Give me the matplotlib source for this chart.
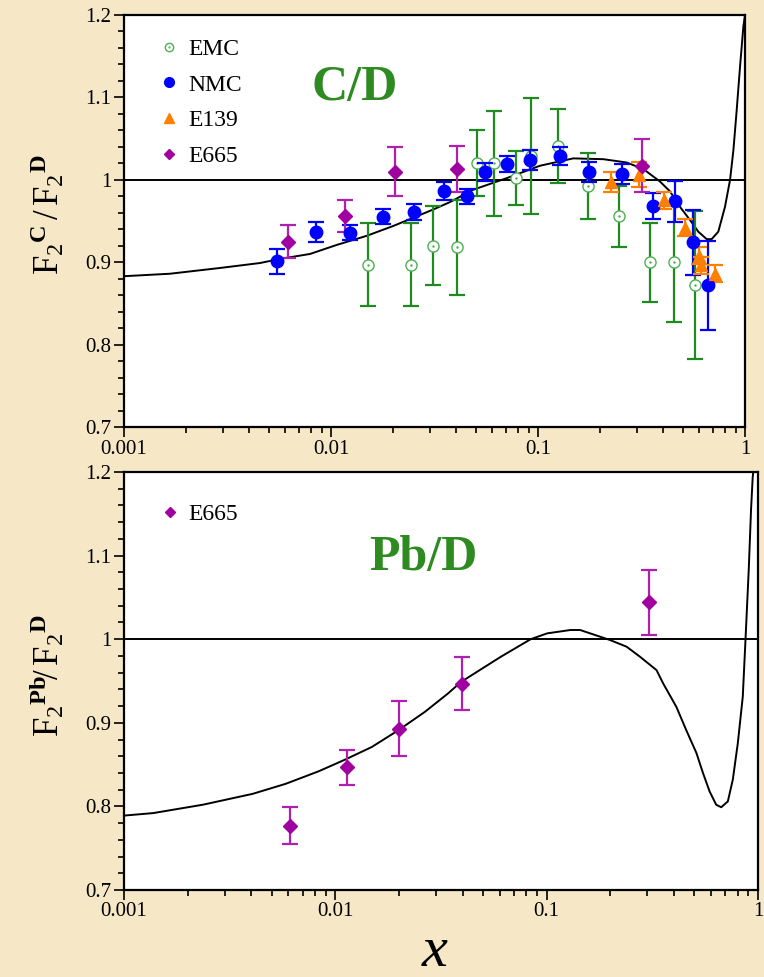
import matplotlib
matplotlib.use("Agg")
import matplotlib.pyplot as plt
from matplotlib.ticker import MultipleLocator, FixedLocator, NullFormatter, FuncFormatter
from matplotlib.legend_handler import HandlerTuple
from matplotlib.lines import Line2D

plt.rcParams['font.family'] = 'Liberation Serif'
plt.rcParams['mathtext.fontset'] = 'custom'
plt.rcParams['mathtext.rm'] = 'Liberation Serif'
plt.rcParams['mathtext.it'] = 'Liberation Serif:italic'
plt.rcParams['mathtext.bf'] = 'Liberation Serif:bold'

# --- C/D data ---
emc_x = [0.0151, 0.0243, 0.0311, 0.0408, 0.0506, 0.0615, 0.0783, 0.092, 0.125, 0.175, 0.247, 0.349, 0.455, 0.575]
emc_y = [0.897, 0.897, 0.920, 0.918, 1.020, 1.020, 1.002, 1.029, 1.041, 0.993, 0.956, 0.900, 0.900, 0.872]
emc_err = [0.050, 0.050, 0.048, 0.058, 0.040, 0.064, 0.033, 0.070, 0.045, 0.040, 0.037, 0.048, 0.072, 0.090]

nmc_x = [0.00548, 0.0085, 0.0124, 0.0178, 0.0252, 0.0351, 0.0454, 0.0555, 0.0707, 0.091, 0.128,
         0.177, 0.254, 0.360, 0.460, 0.560, 0.660]
nmc_y = [0.901, 0.937, 0.936, 0.955, 0.961, 0.986, 0.980, 1.009, 1.019, 1.024, 1.029,
         1.009, 1.007, 0.968, 0.974, 0.924, 0.872]
nmc_err = [0.015, 0.012, 0.009, 0.009, 0.010, 0.011, 0.009, 0.011, 0.010, 0.012, 0.011,
           0.012, 0.012, 0.016, 0.025, 0.039, 0.054]

e139_x = [0.225, 0.309, 0.407, 0.513, 0.600, 0.615, 0.718]
e139_y = [0.997, 1.006, 0.975, 0.942, 0.908, 0.896, 0.886]
e139_err = [0.012, 0.015, 0.010, 0.010, 0.010, 0.010, 0.010]

e665c_x = [0.00622, 0.01165, 0.0204, 0.0408, 0.317]
e665c_y = [0.925, 0.956, 1.010, 1.013, 1.017]
e665c_err = [0.020, 0.019, 0.030, 0.028, 0.032]

curve_c_x = [0.001, 0.001667, 0.00291, 0.00454, 0.00567, 0.00792, 0.01067, 0.01487, 0.0200, 0.0250,
             0.0312, 0.0376, 0.0487, 0.0706, 0.102, 0.148, 0.207, 0.268, 0.323, 0.388, 0.434,
             0.486, 0.543, 0.595, 0.653, 0.690, 0.743, 0.800, 0.847, 0.879, 0.912, 0.946, 0.982, 1.0]
curve_c_y = [0.883, 0.886, 0.893, 0.899, 0.904, 0.910, 0.921, 0.932, 0.944, 0.954,
             0.964, 0.973, 0.988, 1.002, 1.017, 1.026, 1.025, 1.021, 1.013, 0.998, 0.986,
             0.967, 0.951, 0.937, 0.928, 0.928, 0.937, 0.967, 1.000, 1.036, 1.085, 1.137, 1.186, 1.2]

# --- Pb/D data ---
e665pb_x = [0.00612, 0.01138, 0.0200, 0.0396, 0.306]
e665pb_y = [0.777, 0.847, 0.893, 0.947, 1.044]
e665pb_err = [0.022, 0.021, 0.033, 0.032, 0.039]

curve_pb_x = [0.001, 0.001374, 0.00236, 0.00406, 0.00582, 0.00834, 0.01113, 0.01486, 0.01985,
              0.0265, 0.0341, 0.0394, 0.0607, 0.0840, 0.1006, 0.1295, 0.144, 0.1995, 0.239,
              0.2765, 0.331, 0.356, 0.411, 0.458, 0.511, 0.549, 0.590, 0.634, 0.670, 0.720,
              0.760, 0.802, 0.847, 0.871, 0.904, 0.927, 0.944, 0.95]
curve_pb_y = [0.789, 0.792, 0.802, 0.815, 0.827, 0.842, 0.856, 0.871, 0.891,
              0.913, 0.935, 0.949, 0.979, 1.000, 1.007, 1.011, 1.011, 0.999, 0.991,
              0.979, 0.963, 0.947, 0.919, 0.891, 0.864, 0.840, 0.818, 0.802, 0.799, 0.806,
              0.832, 0.875, 0.931, 0.995, 1.083, 1.155, 1.194, 1.2]

y_ticks = [0.7, 0.8, 0.9, 1.0, 1.1, 1.2]
x_ticks = [0.001, 0.01, 0.1, 1]
x_ticklabels = ["0.001", "0.01", "0.1", "1"]

GREEN_BAR = "#1f8a1f"
GREEN_PT = "#4caf50"
BLUE = "#0000ff"
ORANGE = "#ff8000"
PURPLE = "#a0009f"
PURPLE_BAR = "#b020b0"
TITLE_GREEN = "#2e8b22"
BG = "#f6e8c6"

fig = plt.figure(figsize=(7.64, 9.77), dpi=100, facecolor=BG)
ax1 = fig.add_axes([124 / 764, 1 - 427 / 977, 621 / 764, 412 / 977])
ax2 = fig.add_axes([124 / 764, 1 - 890 / 977, 634 / 764, 418 / 977])


def style_axis(ax):
    ax.set_facecolor("white")
    ax.set_xscale("log")
    ax.set_xlim(0.001, 1)
    ax.set_ylim(0.7, 1.2)
    ax.xaxis.set_major_locator(FixedLocator(x_ticks))
    ax.xaxis.set_major_formatter(FuncFormatter(lambda v, p: x_ticklabels[x_ticks.index(v)] if v in x_ticks else ""))
    minors = [m * 10.0 ** e for e in (-3, -2, -1) for m in range(2, 10)]
    ax.xaxis.set_minor_locator(FixedLocator(minors))
    ax.xaxis.set_minor_formatter(NullFormatter())
    ax.yaxis.set_major_locator(FixedLocator(y_ticks))
    ax.yaxis.set_major_formatter(FuncFormatter(lambda v, p: "1" if abs(v - 1) < 1e-9 else f"{v:g}"))
    ax.yaxis.set_minor_locator(MultipleLocator(0.02))
    ax.tick_params(which="both", direction="out", top=False, right=False, width=1.2, labelsize=15)
    ax.tick_params(which="major", length=7, pad=2)
    ax.tick_params(which="minor", length=4)
    for s in ax.spines.values():
        s.set_linewidth(1.6)
    ax.axhline(1.0, color="black", lw=1.4, zorder=1)


style_axis(ax1)
style_axis(ax2)

# ---- top panel ----
ax1.plot(curve_c_x, curve_c_y, color="black", lw=1.4, zorder=2)
ax1.errorbar(emc_x, emc_y, yerr=emc_err, fmt="none", ecolor=GREEN_BAR, elinewidth=1.6,
             capsize=6, capthick=1.6, zorder=3)
ax1.plot(emc_x, emc_y, "o", ms=8, mfc="white", mec=GREEN_PT, mew=1.0, zorder=4)
ax1.plot(emc_x, emc_y, ".", ms=1.5, color=GREEN_PT, zorder=5)
ax1.errorbar(nmc_x, nmc_y, yerr=nmc_err, fmt="o", color=BLUE, ms=9, elinewidth=1.6,
             capsize=6, capthick=1.6, zorder=6)
ax1.errorbar(e139_x, e139_y, yerr=e139_err, fmt="^", color=ORANGE, ms=9, elinewidth=1.6,
             capsize=6, capthick=1.6, zorder=6)
ax1.errorbar(e665c_x, e665c_y, yerr=e665c_err, fmt="D", color=PURPLE, ecolor=PURPLE_BAR, ms=7,
             elinewidth=1.6, capsize=6, capthick=1.6, zorder=6)

h_emc = (Line2D([], [], ls="none", marker="o", ms=6, mfc="white", mec=GREEN_PT, mew=1.0),
         Line2D([], [], ls="none", marker=".", ms=1.2, color=GREEN_PT))
h_nmc = Line2D([], [], ls="none", marker="o", ms=7, color=BLUE)
h_e139 = Line2D([], [], ls="none", marker="^", ms=7, color=ORANGE)
h_e665 = Line2D([], [], ls="none", marker="D", ms=5, color=PURPLE)
ax1.legend([h_emc, h_nmc, h_e139, h_e665], ["EMC", "NMC", "E139", "E665"],
           handler_map={tuple: HandlerTuple(ndivide=1, pad=0)},
           loc="upper left", bbox_to_anchor=(0.02, 0.995), frameon=False, fontsize=17,
           handlelength=1.0, handletextpad=0.3, labelspacing=0.6)
ax1.text(0.372, 0.823, "C/D", transform=ax1.transAxes, ha="center", va="center",
         fontsize=36, fontweight="bold", color=TITLE_GREEN)

# ---- bottom panel ----
ax2.plot(curve_pb_x, curve_pb_y, color="black", lw=1.4, zorder=2)
ax2.errorbar(e665pb_x, e665pb_y, yerr=e665pb_err, fmt="D", color=PURPLE, ecolor=PURPLE_BAR, ms=7,
             elinewidth=1.6, capsize=6, capthick=1.6, zorder=6)
ax2.legend([Line2D([], [], ls="none", marker="D", ms=5, color=PURPLE)], ["E665"],
           loc="upper left", bbox_to_anchor=(0.02, 0.975), frameon=False, fontsize=17,
           handlelength=1.0, handletextpad=0.3)
ax2.text(0.472, 0.794, "Pb/D", transform=ax2.transAxes, ha="center", va="center",
         fontsize=36, fontweight="bold", color=TITLE_GREEN)

# axis titles
fig.text(48 / 764, 1 - 215 / 977, r"$\mathrm{F}_2{}^{\mathbf{C}}\,/\,\mathrm{F}_2{}^{\mathbf{D}}$",
         rotation=90, ha="center", va="center", fontsize=25)
fig.text(48 / 764, 1 - 675 / 977, r"$\mathrm{F}_2{}^{\mathbf{Pb}}\!/\,\mathrm{F}_2{}^{\mathbf{D}}$",
         rotation=90, ha="center", va="center", fontsize=25)
fig.text(435 / 764, 1 - 952 / 977, "x", style="italic", ha="center", va="center", fontsize=42)

fig.savefig("out.png", dpi=100, facecolor=BG)
